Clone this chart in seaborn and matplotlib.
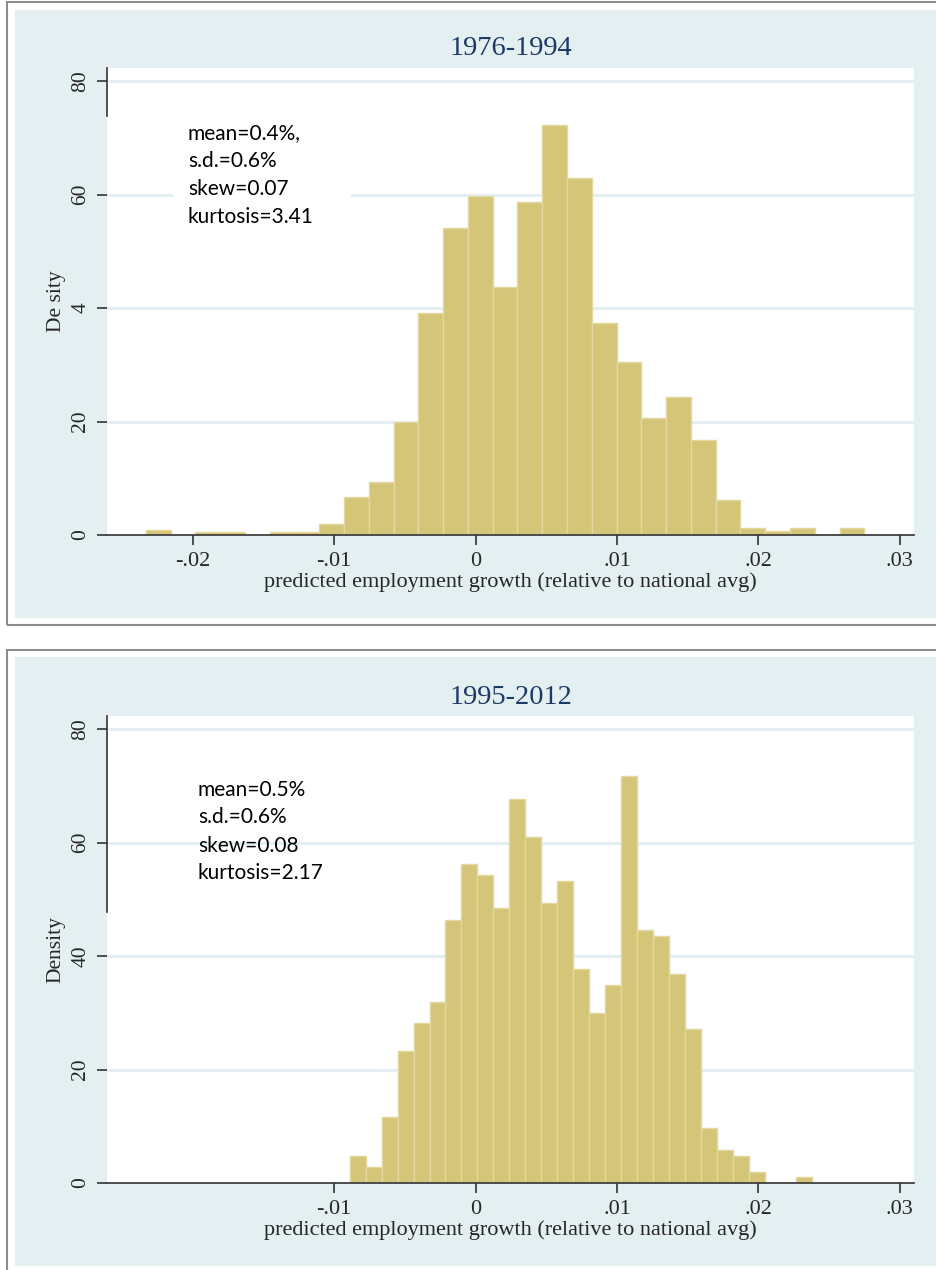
import numpy as np
import pandas as pd
import matplotlib
matplotlib.use("Agg")
import matplotlib.pyplot as plt
import seaborn as sns
from matplotlib.patches import Rectangle

# =====================
# DATA
# =====================
early_title = "1976-1994"
early_bin_start = -0.02332
early_bin_width = 0.001752
early_density = [0.8, 0.0, 0.6, 0.6, 0.0, 0.6, 0.6, 2.0, 6.7, 9.3,
                 19.9, 39.1, 54.1, 59.7, 43.7, 58.7, 72.2, 62.9, 37.4, 30.5,
                 20.6, 24.3, 16.7, 6.2, 1.2, 0.7, 1.2, 0.0, 1.2]
early_stats = ["mean=0.4%,", "s.d.=0.6%", "skew=0.07", "kurtosis=3.41"]
early_ylabel = "De sity"
early_yticklabels = ["0", "20", "4", "60", "80"]
early_xticks = [-0.02, -0.01, 0, 0.01, 0.02, 0.03]
early_xticklabels = ["-.02", "-.01", "0", ".01", ".02", ".03"]

late_title = "1995-2012"
late_bin_start = -0.0089
late_bin_width = 0.001128
late_density = [4.8, 2.8, 11.6, 23.3, 28.2, 31.9, 46.3, 56.2, 54.3, 48.5,
                67.7, 61.0, 49.3, 53.2, 37.7, 30.0, 34.9, 71.7, 44.6, 43.5,
                36.8, 27.1, 9.7, 5.8, 4.8, 1.9, 0.0, 0.0, 1.1]
late_stats = ["mean=0.5%", "s.d.=0.6%", "skew=0.08", "kurtosis=2.17"]
late_ylabel = "Density"
late_yticklabels = ["0", "20", "40", "60", "80"]
late_xticks = [-0.01, 0, 0.01, 0.02, 0.03]
late_xticklabels = ["-.01", "0", ".01", ".02", ".03"]

yticks = [0, 20, 40, 60, 80]
xlabel = "predicted employment growth (relative to national avg)"

# =====================
# STYLE
# =====================
W, H = 937, 1270
BG = "#e4eff2"
BAR = "#d4c578"
BAR_EDGE = "#e2d8a0"
GRID = "#e2eef2"
TITLE_COLOR = "#1c3a66"
AXIS_COLOR = "#333333"
SERIF = ["Liberation Serif", "DejaVu Serif"]

sns.set_style("ticks")
plt.rcParams["font.family"] = SERIF

fig = plt.figure(figsize=(W / 100, H / 100), dpi=100)
fig.patch.set_facecolor("white")


def fig_rect(x0, y0, x1, y1, **kw):
    # rectangle given in pixel coords (origin top-left)
    r = Rectangle((x0 / W, 1 - y1 / H), (x1 - x0) / W, (y1 - y0) / H,
                  transform=fig.transFigure, **kw)
    fig.add_artist(r)


# panel frames
fig_rect(7, 2, 960, 625, facecolor="none", edgecolor="#8c8c8c", lw=1.5, zorder=0)
fig_rect(15, 10, 960, 618, facecolor=BG, edgecolor="none", zorder=0)
fig_rect(7, 650, 960, 1290, facecolor="none", edgecolor="#8c8c8c", lw=1.5, zorder=0)
fig_rect(15, 657, 960, 1266, facecolor=BG, edgecolor="none", zorder=0)


def draw_panel(top_px, bottom_px, title, bin_start, bin_width, density, stats,
               ylabel, ytlabels, xticks, xtlabels, text_x, text_base, spine_low,
               white_box=False):
    h = bottom_px - top_px
    ax = fig.add_axes([107 / W, 1 - bottom_px / H, (914 - 107) / W, h / H])
    ax.set_facecolor("white")

    edges = bin_start + bin_width * np.arange(len(density) + 1)
    centers = (edges[:-1] + edges[1:]) / 2
    df = pd.DataFrame({"growth": centers, "density": density})
    sns.histplot(data=df, x="growth", weights="density", binwidth=bin_width,
                 binrange=(edges[0], edges[-1]), stat="count", color=BAR,
                 edgecolor=BAR_EDGE, linewidth=1.0, alpha=1, ax=ax, zorder=2)

    ax.set_xlim(-0.02607, 0.0310)
    ax.set_ylim(0, 82.3)
    ax.yaxis.grid(True, color=GRID, lw=2)
    ax.set_axisbelow(True)

    for s in ["top", "right"]:
        ax.spines[s].set_visible(False)
    ax.spines["bottom"].set_color(AXIS_COLOR)
    ax.spines["left"].set_color(AXIS_COLOR)
    ax.spines["left"].set_bounds(spine_low, 82.3)
    ax.spines["left"].set_linewidth(1.2)
    ax.spines["bottom"].set_linewidth(1.2)

    ax.set_yticks(yticks)
    ax.set_yticklabels(ytlabels, rotation=90, va="center", fontsize=15.5)
    ax.set_xticks(xticks)
    ax.set_xticklabels(xtlabels, fontsize=16)
    ax.tick_params(axis="both", length=7, width=1.2, color=AXIS_COLOR, pad=5)

    ax.set_ylabel(ylabel, fontsize=15.5, labelpad=4)
    ax.set_xlabel(xlabel, fontsize=16, labelpad=1)
    ax.set_title(title, fontsize=20.5, color=TITLE_COLOR, pad=9)

    if white_box:
        # white patch behind the stats text (covers the 60 grid line)
        ax.add_patch(Rectangle(((173 - 107) / 807, (bottom_px - 235) / h),
                               178 / 807, 125 / h, transform=ax.transAxes,
                               facecolor="white", edgecolor="none", zorder=1.5))

    for line, base in zip(stats, text_base):
        ax.text((text_x - 107) / 807, (bottom_px - base) / h, line,
                transform=ax.transAxes, fontsize=15, family=["Lato", "DejaVu Sans"],
                color="black", va="baseline", ha="left", zorder=3)
    return ax


draw_panel(68, 535, early_title, early_bin_start, early_bin_width, early_density,
           early_stats, early_ylabel, early_yticklabels, early_xticks,
           early_xticklabels, 188, [139, 167, 195, 223], 73.8, white_box=True)
draw_panel(716, 1183, late_title, late_bin_start, late_bin_width, late_density,
           late_stats, late_ylabel, late_yticklabels, late_xticks,
           late_xticklabels, 198, [796, 823, 852, 879], 47.8)

fig.savefig("out.png", dpi=100)
